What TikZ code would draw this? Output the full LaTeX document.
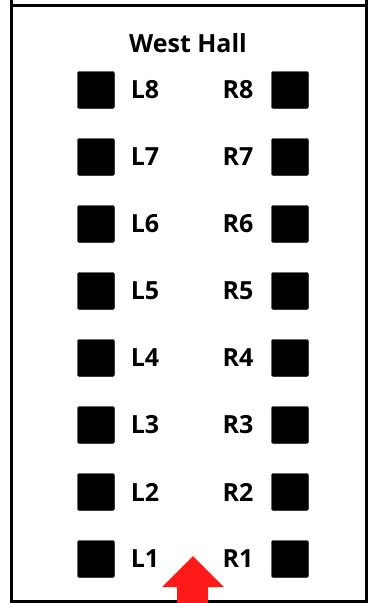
\documentclass[tikz,border=0pt]{standalone}
\usepackage{fontspec}
\setmainfont{Open Sans}
\usetikzlibrary{positioning}

\definecolor{entryred}{RGB}{255,26,26}

\tikzset{
    seat/.style={rectangle,fill=black,draw=black,minimum size=37pt,inner sep=0pt,rounded corners=2pt},
    seatlabel/.style={font=\fontsize{25}{28}\selectfont\bfseries,inner sep=0pt},
    wall/.style={line width=3pt},
}

\begin{document}
\begin{tikzpicture}[x=1pt,y=-1pt]
        \useasboundingbox (0,0) rectangle (369,603);

        % frame
        \coordinate (tl) at (11,0);
        \coordinate (tr) at (366.5,0);
        \coordinate (bl) at (11,601);
        \coordinate (br) at (366.5,601);
        \draw[wall] (tl) -- (bl) -- (br) -- (tr);
        \draw[wall] (11,5.5) -- (366.5,5.5);

        \node[seatlabel] (title) at (188,43) {West Hall};

        % seats
        \foreach \i in {1,...,8} {
            \node[seat] (l\i) at (96,{90+(8-\i)*67}) {};
            \node[seat] (r\i) at (290,{90+(8-\i)*67}) {};
            \node[seatlabel] (ll\i) at (145,{90+(8-\i)*67}) {L\i};
            \node[seatlabel] (rl\i) at (238,{90+(8-\i)*67}) {R\i};
        }

        % entrance
        \fill[entryred] (193,556) -- (224,587) -- (208,587) -- (208,603)
            -- (177,603) -- (177,587) -- (162,587) -- cycle;

    \end{tikzpicture}
\end{document}
